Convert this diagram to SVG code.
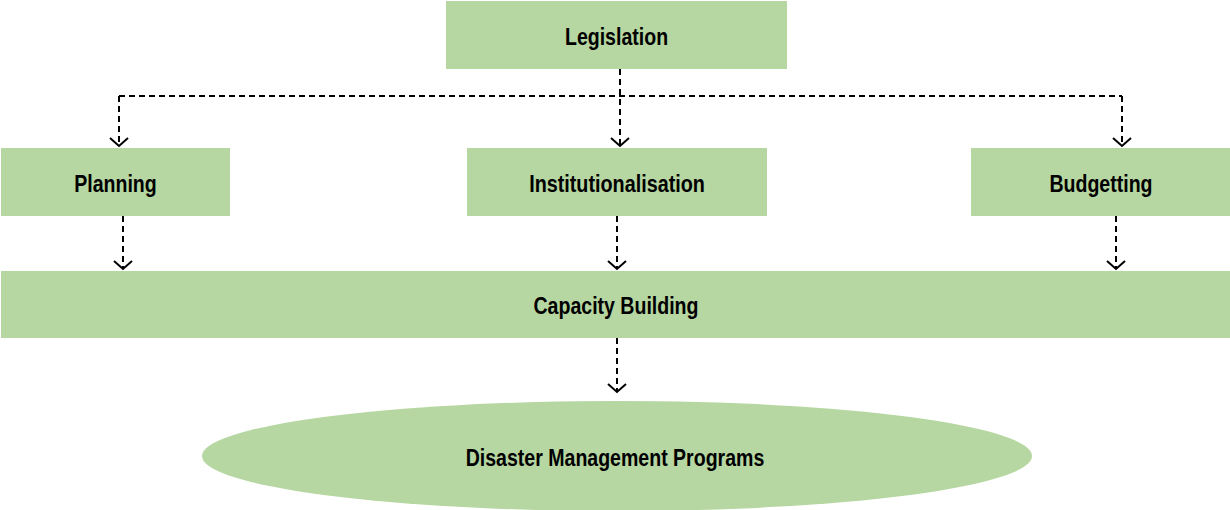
<svg xmlns="http://www.w3.org/2000/svg" width="1230" height="510" viewBox="0 0 1230 510">
<style>
.box{fill:#b6d7a1;}
.lbl{font-family:"Liberation Sans",Arial,sans-serif;font-weight:bold;font-size:23px;fill:#000;text-anchor:middle;dominant-baseline:central;}
.con{fill:none;stroke:#000;stroke-width:2;stroke-dasharray:6,4;}
</style>
<defs>
<marker id="arr" markerWidth="24" markerHeight="24" refX="12" refY="12" orient="auto" markerUnits="userSpaceOnUse">
<path d="M4,3 L12,12 L4,21" fill="none" stroke="#000" stroke-width="2"/>
</marker>
</defs>
<rect width="1230" height="510" fill="#fff"/>
<g id="connectors">
<path class="con" d="M620,69 V146" marker-end="url(#arr)"/>
<path class="con" d="M119,96 H1122"/>
<path class="con" d="M119,96 V146" marker-end="url(#arr)"/>
<path class="con" d="M1122,96 V146" marker-end="url(#arr)"/>
<path class="con" d="M123,216 V269" marker-end="url(#arr)"/>
<path class="con" d="M617,216 V269" marker-end="url(#arr)"/>
<path class="con" d="M1116,216 V269" marker-end="url(#arr)"/>
<path class="con" d="M617,338 V392" marker-end="url(#arr)"/>
</g>
<g id="legislation"><rect class="box" x="446" y="1" width="341" height="68"/><text class="lbl" transform="translate(616.5,37) scale(0.85,1)">Legislation</text></g>
<g id="planning"><rect class="box" x="1" y="148" width="229" height="68"/><text class="lbl" transform="translate(115.5,184) scale(0.85,1)">Planning</text></g>
<g id="institutionalisation"><rect class="box" x="467" y="148" width="300" height="68"/><text class="lbl" transform="translate(617,184) scale(0.86,1)">Institutionalisation</text></g>
<g id="budgetting"><rect class="box" x="971" y="148" width="259" height="68"/><text class="lbl" transform="translate(1101,184) scale(0.85,1)">Budgetting</text></g>
<g id="capacity"><rect class="box" x="1" y="271" width="1229" height="67"/><text class="lbl" transform="translate(616,306) scale(0.85,1)">Capacity Building</text></g>
<g id="programs"><ellipse class="box" cx="617" cy="456" rx="415" ry="55"/><text class="lbl" transform="translate(615,458) scale(0.85,1)">Disaster Management Programs</text></g>
</svg>
